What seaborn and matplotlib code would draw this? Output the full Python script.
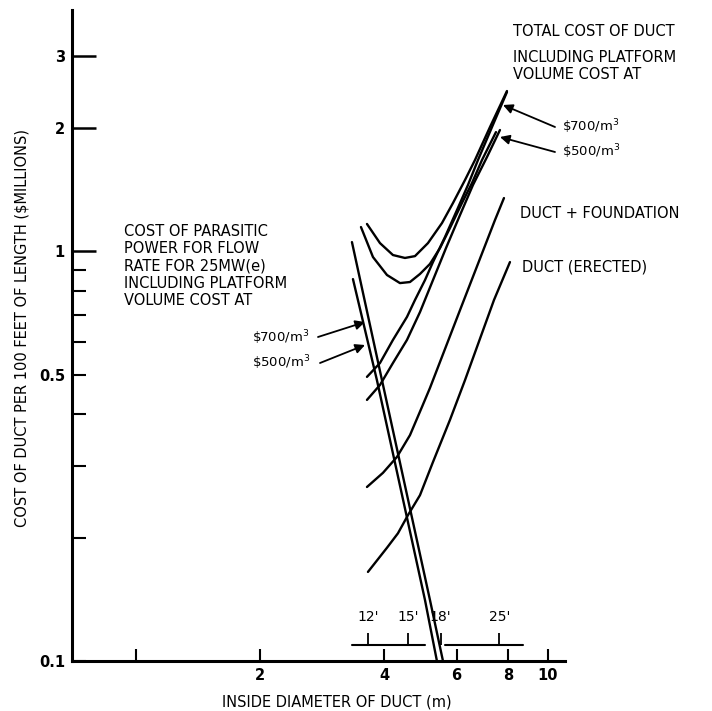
import pandas as pd
import matplotlib
matplotlib.use('Agg')
import matplotlib.pyplot as plt
from matplotlib.ticker import NullLocator
import seaborn as sns

# inside diameter (m) vs cost per 100 ft of length ($ millions)
para_700_d = [3.345, 3.956, 5.172, 5.563]
para_700_c = [1.054, 0.485, 0.141, 0.100]
para_500_d = [3.364, 3.846, 5.030, 5.378]
para_500_c = [0.856, 0.485, 0.141, 0.100]

total_700_d = [3.638, 3.912, 4.206, 4.498, 4.757, 5.115, 5.532, 5.883, 6.291, 6.652, 7.233, 7.953]
total_700_c = [1.167, 1.048, 0.980, 0.964, 0.974, 1.048, 1.173, 1.313, 1.494, 1.672, 2.012, 2.464]
total_500_d = [3.518, 3.762, 4.068, 4.374, 4.626, 4.892, 5.172, 5.470, 5.785, 6.186, 6.542, 6.918, 7.480]
total_500_c = [1.147, 0.969, 0.876, 0.837, 0.842, 0.881, 0.932, 1.019, 1.141, 1.313, 1.469, 1.672, 1.956]

capital_700_d = [3.638, 3.912, 4.206, 4.549, 4.757, 5.030, 5.260, 5.625, 6.016, 6.397, 6.765, 7.315, 7.953]
capital_700_c = [0.494, 0.534, 0.608, 0.692, 0.761, 0.851, 0.942, 1.084, 1.262, 1.453, 1.672, 2.012, 2.450]
capital_500_d = [3.638, 3.912, 4.206, 4.549, 4.892, 5.260, 5.657, 6.118, 6.578, 7.113, 7.648]
capital_500_c = [0.434, 0.472, 0.534, 0.608, 0.711, 0.851, 1.019, 1.227, 1.453, 1.700, 1.979]

duct_found_d = [3.638, 3.978, 4.302, 4.626, 4.946, 5.172, 6.118, 7.438, 7.821]
duct_found_c = [0.266, 0.288, 0.315, 0.356, 0.417, 0.464, 0.719, 1.193, 1.350]

duct_d = [3.658, 4.068, 4.325, 4.574, 4.892, 5.260, 5.785, 6.291, 7.397, 8.088]
duct_c = [0.165, 0.189, 0.205, 0.227, 0.254, 0.306, 0.388, 0.485, 0.761, 0.942]

# secondary diameter scale in feet
feet_ticks = [12, 15, 18, 25]
feet_labels = ["12'", "15'", "18'", "25'"]
M_PER_FT = 0.3048

x_ticks = [1, 2, 4, 6, 8, 10]
x_labels = ['', '2', '4', '6', '8', '10']
y_major = [1, 2, 3]
y_major_labels = ['1', '2', '3']
y_minor = [0.1, 0.2, 0.3, 0.4, 0.5, 0.6, 0.7, 0.8, 0.9]
y_minor_labels = ['0.1', '', '', '', '0.5', '', '', '', '']

curves = {
    'para_700': (para_700_d, para_700_c),
    'para_500': (para_500_d, para_500_c),
    'total_700': (total_700_d, total_700_c),
    'total_500': (total_500_d, total_500_c),
    'capital_700': (capital_700_d, capital_700_c),
    'capital_500': (capital_500_d, capital_500_c),
    'duct_found': (duct_found_d, duct_found_c),
    'duct': (duct_d, duct_c),
}
rows = []
for name, (ds, cs) in curves.items():
    for d, c in zip(ds, cs):
        rows.append({'curve': name, 'diameter': d, 'cost': c})
df = pd.DataFrame(rows)

sns.set_style('ticks')
plt.rcParams['font.family'] = ['DejaVu Sans']
plt.rcParams['text.color'] = 'black'
plt.rcParams['xtick.color'] = 'black'
plt.rcParams['ytick.color'] = 'black'
plt.rcParams['axes.edgecolor'] = 'black'

W, H = 712, 711
fig = plt.figure(figsize=(W / 100, H / 100), dpi=100)
ax = fig.add_axes([72 / W, 50 / H, 493 / W, 651 / H])


def fpt(px, py):
    # figure fraction from pixel position measured from the top left
    return (px / W, 1 - py / H)


sns.lineplot(data=df, x='diameter', y='cost', units='curve', estimator=None,
             color='black', linewidth=1.7, legend=False, ax=ax)

ax.set_xscale('log')
ax.set_yscale('log')
ax.set_xlim(0.70, 11.0)
ax.set_ylim(0.1, 3.886)

ax.set_xticks(x_ticks, labels=x_labels)
ax.xaxis.set_minor_locator(NullLocator())
ax.set_yticks(y_major, labels=y_major_labels)
ax.set_yticks(y_minor, labels=y_minor_labels, minor=True)

ax.tick_params(axis='x', which='major', direction='in', length=9, width=1.5,
               pad=5, labelsize=10.5, colors='black')
ax.tick_params(axis='y', which='major', direction='in', length=17, width=1.8,
               pad=5, labelsize=10.5, colors='black')
ax.tick_params(axis='y', which='minor', direction='in', length=10, width=1.5,
               pad=5, labelsize=10.5, colors='black')
for lab in ax.get_xticklabels() + ax.get_yticklabels() + ax.get_yticklabels(minor=True):
    lab.set_fontweight('bold')

sns.despine(ax=ax)
for side in ['left', 'bottom']:
    ax.spines[side].set_linewidth(2.2)
    ax.spines[side].set_color('black')
ax.set_xlabel('')
ax.set_ylabel('')

# feet scale drawn just above the metre axis
feet_m = [f * M_PER_FT for f in feet_ticks]
ax.plot([3.345, 5.03], [0.1094, 0.1094], color='black', lw=1.5)
ax.plot([5.625, 8.70], [0.1094, 0.1094], color='black', lw=1.5)
ax.vlines(feet_m, 0.1094, 0.117, color='black', lw=1.3)
for m, lab in zip(feet_m, feet_labels):
    ax.text(m, 0.128, lab, ha='center', va='center', fontsize=10)

fig.text(*fpt(22, 328), 'COST OF DUCT PER 100 FEET OF LENGTH (\\$MILLIONS)',
         rotation=90, ha='center', va='center', fontsize=10.5)
fig.text(*fpt(337, 702), 'INSIDE DIAMETER OF DUCT (m)', ha='center', va='center',
         fontsize=10.5)

fig.text(*fpt(124, 266), 'COST OF PARASITIC\nPOWER FOR FLOW\nRATE FOR 25MW(e)\n'
         'INCLUDING PLATFORM\nVOLUME COST AT', ha='left', va='center',
         fontsize=10.5, linespacing=1.2)
fig.text(*fpt(513, 32), 'TOTAL COST OF DUCT', ha='left', va='center', fontsize=10.5)
fig.text(*fpt(513, 66), 'INCLUDING PLATFORM\nVOLUME COST AT', ha='left',
         va='center', fontsize=10.5, linespacing=1.15)
fig.text(*fpt(520, 213), 'DUCT + FOUNDATION', ha='left', va='center', fontsize=10.5)
fig.text(*fpt(522, 267), 'DUCT (ERECTED)', ha='left', va='center', fontsize=10.5)

arrow = dict(arrowstyle='-|>', color='black', lw=1.3, mutation_scale=14,
             shrinkA=0, shrinkB=0)
labels = [
    ('\\$700/m$^3$', (252, 338), (318, 337), (365, 322)),
    ('\\$500/m$^3$', (252, 363), (320, 363), (365, 345)),
    ('\\$700/m$^3$', (562, 127), (555, 127), (503, 105)),
    ('\\$500/m$^3$', (562, 152), (555, 152), (500, 137)),
]
for txt, tpos, start, tip in labels:
    fig.text(*fpt(*tpos), txt, ha='left', va='center', fontsize=9.5)
    ax.annotate('', xy=fpt(*tip), xycoords='figure fraction',
                xytext=fpt(*start), textcoords='figure fraction',
                arrowprops=arrow)

fig.savefig('out.png', dpi=100)
